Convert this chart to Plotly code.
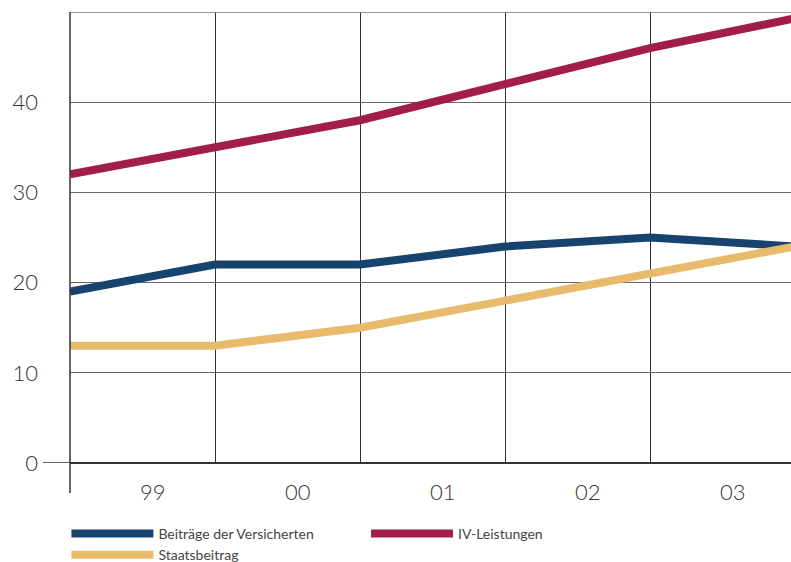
import plotly.graph_objects as go

# Year positions (points sit on the vertical grid lines)
x_pos = [0, 1, 2, 3, 4, 5]
year_labels = ["99", "00", "01", "02", "03"]
label_pos = [0.57, 1.57, 2.57, 3.57, 4.57]

beitraege = [19, 22, 22, 24, 25, 24]
iv_leistungen = [32, 35, 38, 42, 46, 49.3]
staatsbeitrag = [13, 13, 15, 18, 21, 24]

BLUE = "#17446f"
CRIMSON = "#a11d4a"
GOLD = "#e8bb6c"
FONT = "Lato"

fig = go.Figure()
fig.add_trace(go.Scatter(x=x_pos, y=beitraege, mode="lines", name="Beiträge der Versicherten",
                         line=dict(color=BLUE, width=8), legend="legend"))
fig.add_trace(go.Scatter(x=x_pos, y=iv_leistungen, mode="lines", name="IV-Leistungen",
                         line=dict(color=CRIMSON, width=8), legend="legend2"))
fig.add_trace(go.Scatter(x=x_pos, y=staatsbeitrag, mode="lines", name="Staatsbeitrag",
                         line=dict(color=GOLD, width=8), legend="legend"))

legend_common = dict(orientation="v", yref="container", y=(562 - 518) / 562, yanchor="top",
                     xanchor="left", itemwidth=82, font=dict(size=14, color="#444"),
                     tracegroupgap=0, bgcolor="rgba(0,0,0,0)")

fig.update_layout(
    width=791, height=562,
    margin=dict(l=70, r=0, t=12, b=99, autoexpand=False),
    plot_bgcolor="white", paper_bgcolor="white",
    font=dict(family=FONT, color="#333"),
    showlegend=True,
    legend=dict(x=-0.005, **legend_common),
    legend2=dict(x=(366 - 70) / 721, **legend_common),
    xaxis=dict(range=[0, 721 / 145], tickmode="array", tickvals=label_pos, ticktext=year_labels,
               showgrid=False, zeroline=False, showline=False, ticks="",
               ticklabelstandoff=14,
               tickfont=dict(size=22, color="#333", family=FONT, weight=300),
               minor=dict(tickmode="array", tickvals=x_pos, showgrid=True,
                          gridcolor="#333", gridwidth=1, ticks="")),
    yaxis=dict(range=[0, 50], tickmode="array", tickvals=[0, 10, 20, 30, 40],
               showgrid=True, gridcolor="#666", gridwidth=1,
               zeroline=True, zerolinecolor="#333", zerolinewidth=1.5,
               showline=False, ticks="", ticklabelstandoff=31,
               tickfont=dict(size=22, color="#333", family=FONT, weight=300)),
)

# Top grid line at 50, extended axis line below zero, zero line stub to the left
fig.add_shape(type="line", xref="paper", yref="y", x0=0, x1=1, y0=50, y1=50,
              line=dict(color="#777", width=1.5))
fig.add_shape(type="line", xref="paper", yref="paper", x0=0, x1=0, y0=-30 / 451, y1=1,
              line=dict(color="#333", width=1.5))
fig.add_shape(type="line", xref="paper", yref="y", x0=-27 / 721, x1=0, y0=0, y1=0,
              line=dict(color="#333", width=1.5))

fig.write_html("out.html")
